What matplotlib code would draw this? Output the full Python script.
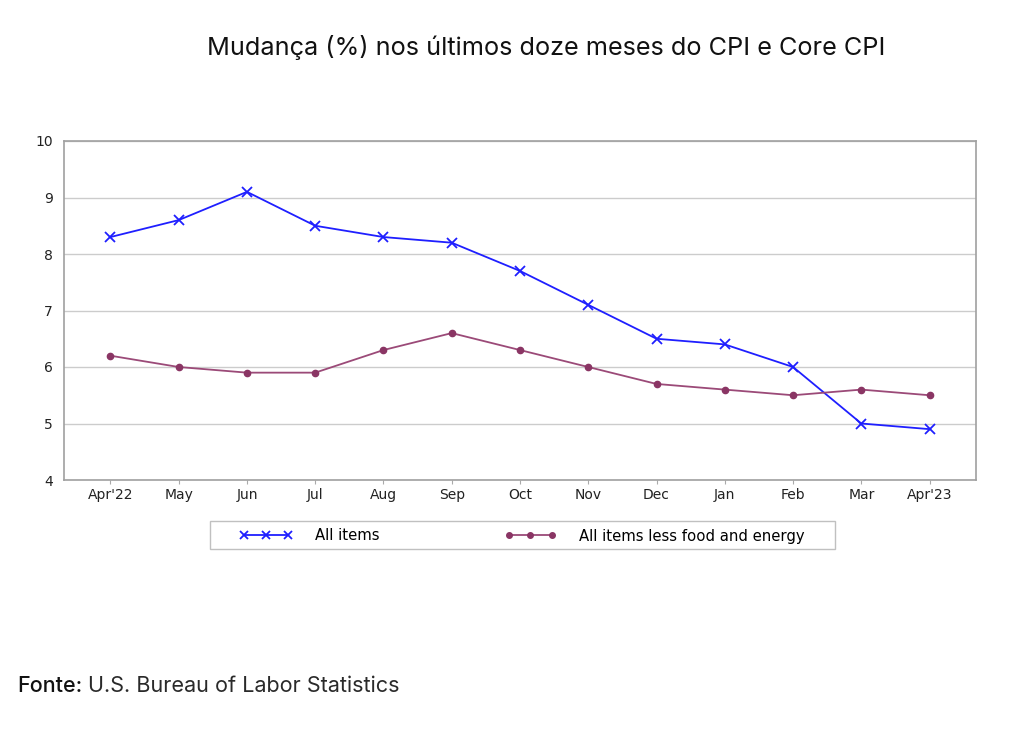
import matplotlib
matplotlib.use("Agg")
import matplotlib.pyplot as plt
from matplotlib.lines import Line2D
from matplotlib.patches import Rectangle

months = ["Apr'22", "May", "Jun", "Jul", "Aug", "Sep", "Oct", "Nov", "Dec", "Jan", "Feb", "Mar", "Apr'23"]
all_items = [8.3, 8.6, 9.1, 8.5, 8.3, 8.2, 7.7, 7.1, 6.5, 6.4, 6.0, 5.0, 4.9]
core = [6.2, 6.0, 5.9, 5.9, 6.3, 6.6, 6.3, 6.0, 5.7, 5.6, 5.5, 5.6, 5.5]
yticks = [4, 5, 6, 7, 8, 9, 10]
title = "Mudança (%) nos últimos doze meses do CPI e Core CPI"
label_all = "All items"
label_core = "All items less food and energy"
src_bold = "Fonte:"
src_rest = "U.S. Bureau of Labor Statistics"

blue = "#1f1fff"
plum = "#9b4a78"
W, H = 1024, 732

fig = plt.figure(figsize=(10.24, 7.32), dpi=100)
ax = fig.add_axes([64/W, 1-480/H, (976-64)/W, (480-141)/H])

x = list(range(len(months)))
ax.plot(x, all_items, color=blue, lw=1.3, marker="x", ms=7, mew=1.3, label=label_all)
ax.plot(x, core, color=plum, lw=1.3, marker="o", ms=4.5, mfc="#8a3564", mec="#8a3564", label=label_core)

ax.set_xlim(-0.68, 12.68)
ax.set_ylim(4, 10)
ax.set_yticks(yticks)
ax.set_xticks(x)
ax.set_xticklabels(months)
ax.tick_params(axis="y", length=0, labelsize=10, pad=8, colors="#222222")
ax.tick_params(axis="x", length=3, color="#aaaaaa", labelsize=10, pad=3, labelcolor="#222222")
ax.grid(axis="y", color="#cccccc", lw=1)
ax.set_axisbelow(True)
for s in ax.spines.values():
    s.set_color("#a0a0a0")
    s.set_linewidth(1.2)

FONT = "Inter"

def fit_text(xp, yp, s, target_w, ha="left", **kw):
    t = fig.text(xp/W, 1-yp/H, s, ha=ha, va="center", fontsize=15, family=FONT, **kw)
    fig.canvas.draw()
    w = t.get_window_extent().width
    t.set_fontsize(15*target_w/w)
    fig.canvas.draw()
    return t

fit_text(546, 47, title, 678, ha="center", color="#111111")

# legend frame
fig.add_artist(Rectangle((210/W, 1-549/H), 625/W, 28/H, transform=fig.transFigure,
                         facecolor="white", edgecolor="#c0c0c0", lw=1.0))
leg = fig.legend(handles=[Line2D([], [], color=blue, lw=1.3, marker="x", ms=6, mew=1.3),
                          Line2D([], [], color=plum, lw=1.3, marker="o", ms=4, mfc="#8a3564", mec="#8a3564")],
                 labels=[label_all, label_core],
                 loc="center left", bbox_to_anchor=(240/W, 1-536/H),
                 ncol=2, numpoints=3, handlelength=3.5,
                 prop={"family": "DejaVu Sans", "size": 10.7},
                 frameon=False, borderpad=0, borderaxespad=0,
                 handletextpad=1.55, columnspacing=8.4)

fit_text(17, 686, src_bold, 65, color="#111111", weight="medium")
fit_text(88, 686, src_rest, 312, color="#2a2a2a", weight="normal")

fig.savefig("out.png", dpi=100)
